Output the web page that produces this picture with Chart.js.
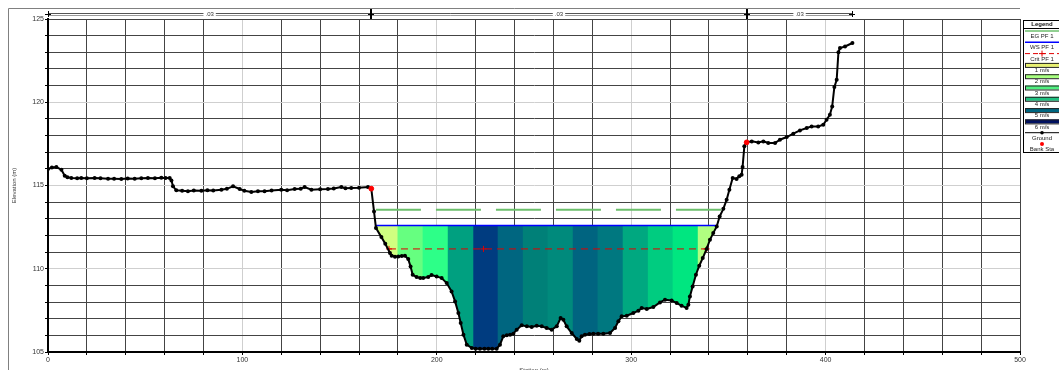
<!DOCTYPE html>
<html>
<head>
<meta charset="utf-8">
<script src="https://cdn.jsdelivr.net/npm/chart.js"></script>
<style>
  body { margin: 0; background: #fff; }
</style>
</head>
<body>
<canvas id="myChart" width="1059" height="370"></canvas>
<script>
// ground profile (station m, elevation m)
var groundStation = [0, 2, 4.3, 6.9, 8.6, 10, 12, 15, 17.1, 20, 24, 27, 30.9, 34, 37.7, 41, 44.6, 48, 51.4, 55, 58.3, 60.5, 62.6, 63.5,
  64.3, 66, 69, 72, 75, 78.9, 82, 85, 89.2, 92, 95.2, 98.6, 101, 104.6, 108, 111.4, 115, 120, 123, 126.9, 130, 132, 135.5,
  140, 144, 147, 150.9, 153, 156, 160, 164.6, 166.3, 167.7, 168.7, 171.5, 173.5, 175.9, 176.8, 178.5, 180.2, 182, 183.6,
  185.3, 186.5, 187.6, 189.6, 191.5, 193, 195.6, 197.3, 199.9, 202.5, 205.1, 207.6, 209.4, 211.1, 212.3, 213.7, 215.4,
  218, 220, 222.2, 224.5, 226.5, 228.5, 230.8, 232.5, 234.2, 236, 237.7, 239.4, 241.1, 243.7, 246.3, 248.8, 251.4, 254,
  256.5, 259.1, 261.7, 263.7, 265.1, 266.8, 269.4, 272, 273.3, 274.5, 276.2, 278.5, 280.5, 283, 285.7, 289.1, 291.7,
  293.4, 295.1, 297.7, 301.1, 303.7, 305.4, 308, 311.4, 314.8, 317.4, 320.8, 323.4, 325.9, 328.5, 329.4, 330.2, 331.6,
  333.3, 335, 336.8, 338.8, 340.5, 342.2, 344, 345.5, 347.4, 349.1, 350.5, 352.2, 354.2, 355.6, 356.8, 357.3, 358.2,
  359.4, 362, 365.4, 368, 370.5, 374, 376.5, 380, 383.4, 386.8, 390.3, 392.8, 396.2, 398.8, 400.5, 402.2, 403.4, 404.5,
  405.7, 406.6, 407.4, 410, 413.8];
var groundElev = [115.99, 116.08, 116.11, 115.95, 115.59, 115.5, 115.45, 115.44, 115.45, 115.43, 115.45, 115.44, 115.41,
  115.4, 115.39, 115.42, 115.41, 115.43, 115.45, 115.44, 115.47, 115.45, 115.45, 115.3,
  114.95, 114.71, 114.68, 114.65, 114.7, 114.69, 114.72, 114.7, 114.75, 114.8, 114.95, 114.79, 114.68, 114.61, 114.66,
  114.65, 114.7, 114.75, 114.72, 114.79, 114.8, 114.91, 114.75,
  114.78, 114.79, 114.82, 114.91, 114.84, 114.85, 114.86, 114.91, 114.81, 113.44, 112.45, 111.9, 111.5, 110.95, 110.78,
  110.72, 110.74, 110.76, 110.78,
  110.58, 110.14, 109.64, 109.5, 109.45, 109.44, 109.5, 109.62, 109.54, 109.44, 109.14, 108.64, 108.04, 107.34, 106.74,
  106.04, 105.44,
  105.24, 105.2, 105.2, 105.2, 105.2, 105.2, 105.2, 105.44, 105.94, 106, 106.04, 106.1, 106.34, 106.6, 106.54, 106.5,
  106.58, 106.54,
  106.44, 106.34, 106.54, 107.04, 106.94, 106.54, 106.14, 105.78, 105.68, 105.94, 106.04, 106.08, 106.1, 106.1, 106.1,
  106.14, 106.44,
  106.84, 107.14, 107.18, 107.34, 107.48, 107.64, 107.58, 107.7, 107.98, 108.14, 108.1, 107.94, 107.78, 107.64, 107.84,
  108.34, 108.94,
  109.64, 110.18, 110.64, 111.19, 111.74, 112.14, 112.54, 113.14, 113.6, 114.15, 114.75, 115.45, 115.39, 115.55, 115.65,
  116.11, 117.35,
  117.59, 117.65, 117.59, 117.65, 117.55, 117.55, 117.75, 117.91, 118.11, 118.31, 118.45, 118.55, 118.55, 118.65, 118.95,
  119.25, 119.75, 120.91,
  121.35, 123, 123.26, 123.35, 123.56];

var bankStation = [166.3, 359.4];
var bankElev = [114.81, 117.59];

var wsStation = [168.7, 344.0];
var wsElev = 112.6;
var egStation = [168.7, 347.4];
var egElev = 113.55;
var critStation = [175.4, 224.0, 338.8];
var critElev = 111.19;

// velocity distribution slices under the water surface
var sliceEdges = [168.7, 179.3, 192.2, 205.1, 218.3, 230.8, 243.7, 256.5, 269.4, 282.2, 295.1, 308.0, 320.8, 333.7, 344.0];
var sliceColors = ["#d0ff80", "#66ff80", "#2dff88", "#00a080", "#003c80", "#006680", "#008078",
  "#008a7c", "#006480", "#007880", "#00a880", "#00cc80", "#00e680", "#b0ff80"];

// manning's n along the top
var nStations = [0, 166.3, 359.4, 413.8];
var nLabels = [".03", ".03", ".03"];

var xLabelStep = 100;
var yLabelStep = 5;

var legendLabels = ["EG PF 1", "WS PF 1", "Crit PF 1", "1 m/s", "2 m/s", "3 m/s", "4 m/s", "5 m/s", "6 m/s", "Ground", "Bank Sta"];
var velLegendColors = ["#e8f070", "#a8ff80", "#50f080", "#20c080", "#006680", "#001060"];

var FONT = "'Liberation Sans', Arial, sans-serif";

function pts(xs, ys) {
  var out = [];
  for (var i = 0; i < xs.length; i++) {
    out.push({ x: xs[i], y: Array.isArray(ys) ? ys[i] : ys });
  }
  return out;
}

var datasets = [
  {
    label: "Ground",
    data: pts(groundStation, groundElev),
    borderColor: "#000",
    borderWidth: 2,
    pointRadius: 2,
    pointBackgroundColor: "#000",
    pointBorderWidth: 0,
    order: 1,
  },
  {
    label: "Bank Sta",
    data: pts(bankStation, bankElev),
    showLine: false,
    pointRadius: 2.4,
    pointBackgroundColor: "#ff0000",
    pointBorderColor: "#ff0000",
    order: 0,
  },
  {
    label: "WS PF 1",
    data: pts(wsStation, wsElev),
    borderColor: "#0000ff",
    borderWidth: 1.5,
    pointRadius: 0,
    order: 2,
  },
  {
    label: "EG PF 1",
    data: pts(egStation, egElev),
    borderColor: "#6cbf6c",
    borderWidth: 2,
    borderDash: [45, 15],
    pointRadius: 0,
    order: 2,
  },
  {
    label: "Crit PF 1",
    data: pts(critStation, critElev),
    borderColor: "#e00000",
    borderWidth: 1,
    borderDash: [7, 5],
    pointStyle: "cross",
    pointRadius: 3,
    pointBorderColor: "#e00000",
    pointBorderWidth: 1,
    order: 2,
  },
];

// each slice is a flat line at the water surface, filled down to the ground
// (a small overlap on the right hides the anti-aliasing seam between slices)
for (var s = 0; s < sliceColors.length; s++) {
  var right = sliceEdges[s + 1] + (s < sliceColors.length - 1 ? 0.6 : 0);
  datasets.push({
    label: "v" + s,
    data: pts([sliceEdges[s], right], wsElev),
    borderWidth: 0,
    borderColor: "rgba(0,0,0,0)",
    backgroundColor: sliceColors[s],
    fill: 0,
    pointRadius: 0,
    order: 10,
  });
}

var decorPlugin = {
  id: "decor",
  afterDraw: function (chart) {
    var ctx = chart.ctx;
    var xs = chart.scales.x;
    var area = chart.chartArea;
    ctx.save();

    // outer frame
    ctx.strokeStyle = "#808080";
    ctx.lineWidth = 1;
    ctx.beginPath();
    ctx.moveTo(8.5, 370);
    ctx.lineTo(8.5, 8.5);
    ctx.lineTo(area.right, 8.5);
    ctx.stroke();

    // manning's n band
    var x0 = xs.getPixelForValue(nStations[0]);
    var x1 = xs.getPixelForValue(nStations[nStations.length - 1]);
    ctx.strokeStyle = "#555";
    ctx.beginPath();
    ctx.moveTo(x0, 13.5); ctx.lineTo(x1, 13.5);
    ctx.stroke();
    ctx.strokeStyle = "#999";
    ctx.beginPath();
    ctx.moveTo(x0, 15.5); ctx.lineTo(x1, 15.5);
    ctx.stroke();
    ctx.strokeStyle = "#000";
    for (var i = 0; i < nStations.length; i++) {
      var px = Math.round(xs.getPixelForValue(nStations[i]));
      var inner = i > 0 && i < nStations.length - 1;
      ctx.lineWidth = inner ? 2 : 1;
      ctx.beginPath();
      ctx.moveTo(px + (inner ? 0 : 0.5), inner ? 9 : 11);
      ctx.lineTo(px + (inner ? 0 : 0.5), inner ? 19 : 17);
      ctx.stroke();
      ctx.lineWidth = 1;
      ctx.beginPath();
      ctx.moveTo(px - 3, 14.5); ctx.lineTo(px + 3, 14.5);
      ctx.stroke();
    }
    ctx.font = "6px " + FONT;
    ctx.textAlign = "center";
    ctx.textBaseline = "middle";
    for (var j = 0; j < nLabels.length; j++) {
      var cx = (xs.getPixelForValue(nStations[j]) + xs.getPixelForValue(nStations[j + 1])) / 2;
      var tw = ctx.measureText(nLabels[j]).width;
      ctx.fillStyle = "#fff";
      ctx.fillRect(cx - tw / 2 - 2, 11, tw + 4, 7);
      ctx.fillStyle = "#333";
      ctx.fillText(nLabels[j], cx, 14.5);
    }

    // legend box
    var lx = 1023, ly = 20, lw = 50, lh = 132;
    ctx.fillStyle = "#fff";
    ctx.fillRect(lx, ly, lw, lh);
    ctx.strokeStyle = "#000";
    ctx.lineWidth = 1;
    ctx.strokeRect(lx + 0.5, ly + 0.5, lw, lh);
    ctx.fillStyle = "#111";
    ctx.font = "bold 6px " + FONT;
    ctx.fillText("Legend", 1042, 24.5);
    ctx.beginPath();
    ctx.moveTo(lx, 28.5); ctx.lineTo(lx + lw, 28.5);
    ctx.stroke();

    var sx0 = 1025, sx1 = 1060, mid = 1042;
    for (var k = 0; k < legendLabels.length; k++) {
      var sy = 31 + k * 11.3;
      ctx.save();
      if (k === 0 || k === 1) {
        ctx.strokeStyle = k === 0 ? "#6cbf6c" : "#0000ff";
        ctx.lineWidth = 1.5;
        ctx.beginPath(); ctx.moveTo(sx0, sy); ctx.lineTo(sx1, sy); ctx.stroke();
      } else if (k === 2) {
        ctx.strokeStyle = "#e00000";
        ctx.setLineDash([5, 3]);
        ctx.beginPath(); ctx.moveTo(sx0, sy); ctx.lineTo(sx1, sy); ctx.stroke();
        ctx.setLineDash([]);
        ctx.beginPath();
        ctx.moveTo(mid - 3, sy); ctx.lineTo(mid + 3, sy);
        ctx.moveTo(mid, sy - 3); ctx.lineTo(mid, sy + 3);
        ctx.stroke();
      } else if (k >= 3 && k <= 8) {
        ctx.fillStyle = velLegendColors[k - 3];
        ctx.fillRect(sx0, sy - 2, sx1 - sx0, 4);
        ctx.strokeStyle = "#222";
        ctx.strokeRect(sx0 + 0.5, sy - 2 + 0.5, sx1 - sx0, 4);
      } else if (k === 9) {
        ctx.strokeStyle = "#000";
        ctx.beginPath(); ctx.moveTo(sx0, sy); ctx.lineTo(sx1, sy); ctx.stroke();
        ctx.fillStyle = "#000";
        ctx.beginPath(); ctx.arc(mid, sy, 1.8, 0, Math.PI * 2); ctx.fill();
      } else {
        ctx.fillStyle = "#ff0000";
        ctx.beginPath(); ctx.arc(mid, sy, 2, 0, Math.PI * 2); ctx.fill();
      }
      ctx.restore();
      ctx.fillStyle = "#222";
      ctx.font = "6px " + FONT;
      ctx.fillText(legendLabels[k], mid, sy + 5.5);
    }
    ctx.restore();
  },
};

function gridColor(ctx, step, lo, hi) {
  var v = ctx.tick ? ctx.tick.value : 0;
  if (v !== lo && v !== hi && v % step === 0) return "#cfcfcf";
  return "#444";
}

new Chart("myChart", {
  type: "line",
  data: { datasets: datasets },
  plugins: [decorPlugin],
  options: {
    responsive: false,
    animation: false,
    layout: { padding: { top: 19, right: 39, left: 0, bottom: 0 } },
    plugins: {
      legend: { display: false },
      tooltip: { enabled: false },
    },
    scales: {
      x: {
        type: "linear",
        min: 0,
        max: 500,
        afterFit: function (scale) { scale.height = 18; },
        ticks: {
          stepSize: 20,
          autoSkip: false,
          maxRotation: 0,
          padding: 1,
          color: "#333",
          font: { size: 7, family: FONT },
          callback: function (v) { return v % xLabelStep === 0 ? String(v) : ""; },
        },
        grid: {
          color: function (c) { return gridColor(c, xLabelStep, 0, 500); },
          lineWidth: 1,
          tickLength: 3,
          tickColor: "#000",
        },
        border: { color: "#000", width: 2 },
        title: {
          display: true,
          text: "Station (m)",
          color: "#333",
          font: { size: 6, family: FONT },
          padding: { top: 0, bottom: -4 },
        },
      },
      y: {
        min: 105,
        max: 125,
        afterFit: function (scale) { scale.width = 48; },
        ticks: {
          stepSize: 1,
          autoSkip: false,
          padding: 1,
          color: "#333",
          font: { size: 7, family: FONT },
          callback: function (v) { return v % yLabelStep === 0 ? String(v) : ""; },
        },
        grid: {
          color: function (c) { return gridColor(c, yLabelStep, 105, 125); },
          lineWidth: 1,
          tickLength: 3,
          tickColor: "#000",
        },
        border: { color: "#000", width: 2 },
        title: {
          display: true,
          text: "Elevation (m)",
          color: "#333",
          font: { size: 6, family: FONT },
          padding: { top: 11, bottom: 0 },
        },
      },
    },
  },
});
</script>
</body>
</html>
